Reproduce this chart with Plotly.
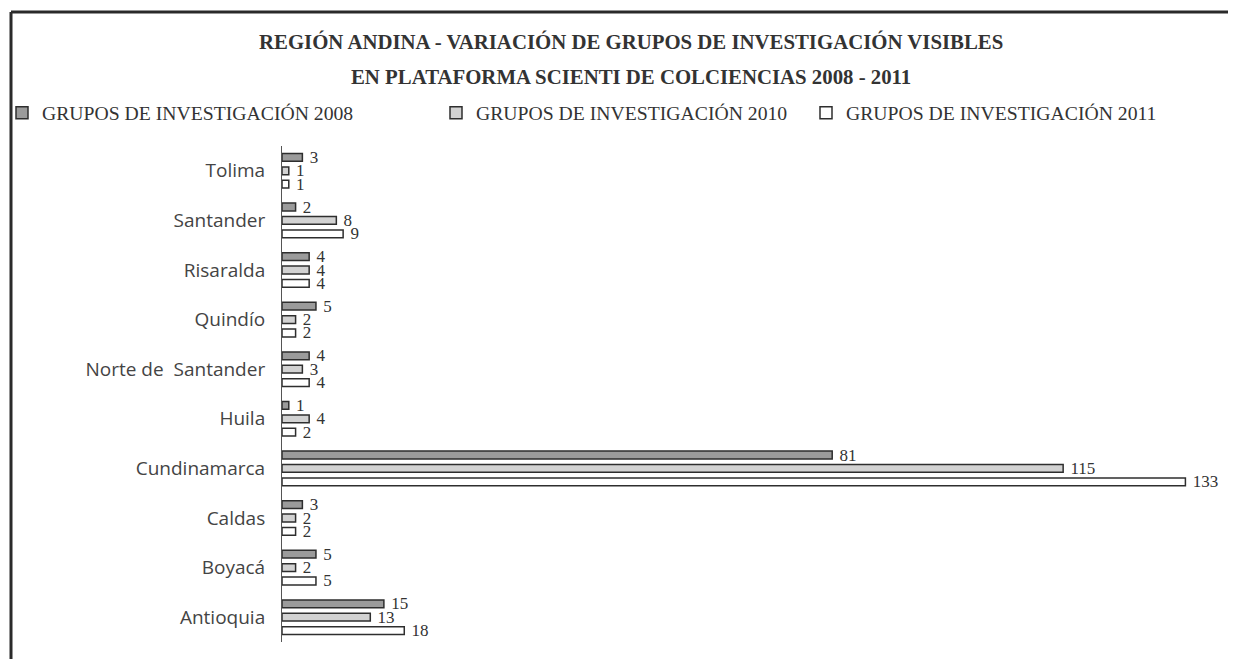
import plotly.graph_objects as go

categories = ["Antioquia", "Boyacá", "Caldas", "Cundinamarca", "Huila",
              "Norte de\u00a0 Santander", "Quindío", "Risaralda", "Santander", "Tolima"]
grupos_2008 = [15, 5, 3, 81, 1, 4, 5, 4, 2, 3]
grupos_2010 = [13, 2, 2, 115, 4, 3, 2, 4, 8, 1]
grupos_2011 = [18, 5, 2, 133, 2, 4, 2, 4, 9, 1]
series_names = ["GRUPOS DE INVESTIGACIÓN 2008", "GRUPOS DE INVESTIGACIÓN 2010",
                "GRUPOS DE INVESTIGACIÓN 2011"]
title_lines = ["REGIÓN ANDINA - VARIACIÓN DE GRUPOS DE INVESTIGACIÓN VISIBLES",
               "EN PLATAFORMA SCIENTI DE COLCIENCIAS 2008 - 2011"]

# page has an 8px body margin; figure is sized to fit the 1236x659 window
OFF = 8
W, H = 1236 - OFF, 659 - OFF
ML, MR, MT, MB = 274, 37, 138, 17
PW, PH = W - ML - MR, H - MT - MB


def px_x(page_x):
    return (page_x - OFF - ML) / PW


def px_y(page_y):
    return (H - MB - (page_y - OFF)) / PH


serif = "Liberation Serif"
txt_col = "#333333"

fig = go.Figure()
# order: 2011 first (bottom of group), 2008 last (top of group)
specs = [
    (grupos_2011, series_names[2], "#ffffff", "legend3"),
    (grupos_2010, series_names[1], "#d2d2d2", "legend2"),
    (grupos_2008, series_names[0], "#9b9b9b", "legend"),
]
for vals, name, color, lg in specs:
    fig.add_trace(go.Bar(
        y=categories, x=vals, orientation="h", name=name,
        marker=dict(color=color, line=dict(color="#2e2e2e", width=1.5)),
        texttemplate="\u00a0%{x}", textposition="outside",
        textfont=dict(family=serif, size=17, color=txt_col),
        constraintext="none",
        cliponaxis=False, legend=lg,
    ))

legend_common = dict(orientation="h", yanchor="middle", xanchor="left",
                     font=dict(family=serif, size=19.7, color=txt_col),
                     bgcolor="rgba(0,0,0,0)", itemwidth=30)

fig.update_layout(
    width=W, height=H,
    margin=dict(l=ML, r=MR, t=MT, b=MB, autoexpand=False),
    paper_bgcolor="white", plot_bgcolor="white",
    barmode="group", bargap=0.19, bargroupgap=0.42,
    showlegend=True,
    legend=dict(x=px_x(2), y=px_y(113), **legend_common),
    legend2=dict(x=px_x(436), y=px_y(113), **legend_common),
    legend3=dict(x=px_x(806), y=px_y(113), **legend_common),
    xaxis=dict(range=[0, 135], showgrid=False, zeroline=False, showline=False,
               showticklabels=False, ticks=""),
    yaxis=dict(showgrid=False, zeroline=False, showline=True, linecolor="#555555",
               linewidth=1, ticks="outside", ticklen=12, tickcolor="rgba(0,0,0,0)",
               tickfont=dict(family="Open Sans", size=19, color="#444444"),
               range=[-0.5, 9.5]),
    font=dict(family=serif, color=txt_col),
)

title_y = [42, 77]
for line, ty in zip(title_lines, title_y):
    fig.add_annotation(
        text="<b>%s</b>" % line, xref="paper", yref="paper",
        x=px_x(631), y=px_y(ty), xanchor="center", yanchor="middle",
        showarrow=False, font=dict(family=serif, size=20.8, color=txt_col),
    )

frame_x = px_x(11)
frame_y = px_y(12)
fig.add_shape(type="line", xref="paper", yref="paper", x0=frame_x, x1=frame_x,
              y0=frame_y, y1=px_y(670), line=dict(color="#2a2a2a", width=3))
fig.add_shape(type="line", xref="paper", yref="paper", x0=frame_x, x1=px_x(1245),
              y0=frame_y, y1=frame_y, line=dict(color="#2a2a2a", width=3))

fig.write_html("out.html")
